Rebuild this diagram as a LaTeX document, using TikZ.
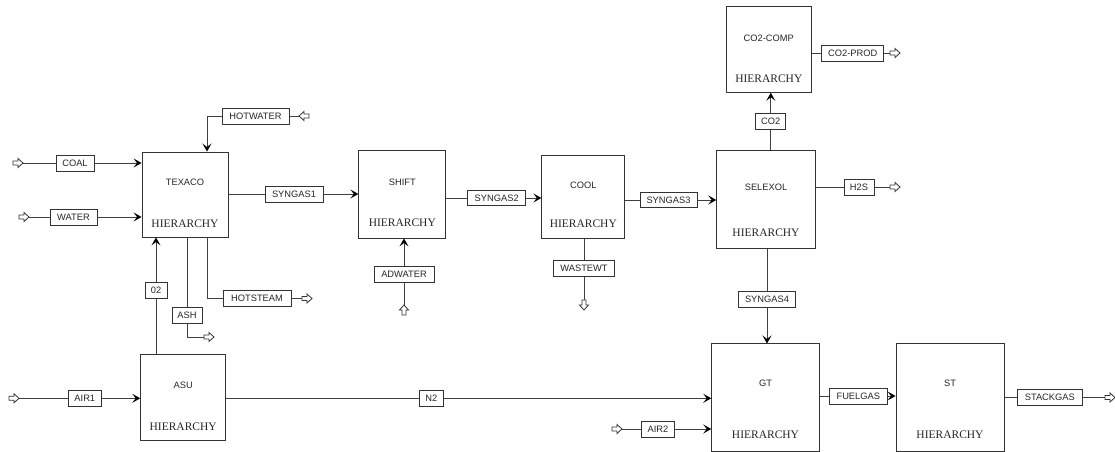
\documentclass[tikz,border=0pt]{standalone}
\usepackage{fontspec}
\setmainfont{Liberation Serif}
\setsansfont{Liberation Sans}
\usetikzlibrary{arrows.meta}
\begin{document}
\begin{tikzpicture}[x=1bp,y=-1bp,
  blk/.style={draw=black!80, line width=0.9bp, inner sep=0pt},
  lbl/.style={draw=black!80, line width=0.9bp, fill=white, inner sep=0pt, minimum height=16bp,
    font=\sffamily\fontsize{9.3bp}{11bp}\selectfont, text=black!85},
  ttl/.style={font=\sffamily\fontsize{9.3bp}{11bp}\selectfont, text=black!85, inner sep=0pt},
  hier/.style={font=\fontsize{11.5bp}{13bp}\selectfont, text=black!85, inner sep=0pt},
  ln/.style={draw=black!75, line width=0.9bp},
  arr/.style={ln, -{Stealth[length=8bp,width=9bp,inset=3.5bp,black]}},
  srcarr/.pic={\draw[line width=0.8bp, draw=black!80, fill=white]
     (-10,-2)--(-5,-2)--(-5,-4.5)--(0,0)--(-5,4.5)--(-5,2)--(-10,2)--cycle;},
  sinkarr/.pic={\draw[line width=0.8bp, draw=black!80, fill=white]
     (0,-2)--(5,-2)--(5,-4.5)--(10,0)--(5,4.5)--(5,2)--(0,2)--cycle;}
]
\useasboundingbox (0,0) rectangle (1115,452);

% blocks
\node[blk, minimum width=86bp, minimum height=85bp] (texaco) at (185,194.5) {};
\node[ttl] (texacoT) at (185,182) {TEXACO};
\node[hier] (texacoH) at (185,224) {HIERARCHY};

\node[blk, minimum width=87bp, minimum height=88bp] (shift) at (402.3,194) {};
\node[ttl] (shiftT) at (402.3,182) {SHIFT};
\node[hier] (shiftH) at (402.3,223) {HIERARCHY};

\node[blk, minimum width=83bp, minimum height=83bp] (cool) at (583.3,196.5) {};
\node[ttl] (coolT) at (583.3,185) {COOL};
\node[hier] (coolH) at (583.3,224) {HIERARCHY};

\node[blk, minimum width=98.6bp, minimum height=97.6bp] (selexol) at (766,199.5) {};
\node[ttl] (selexolT) at (766,187) {SELEXOL};
\node[hier] (selexolH) at (766,233) {HIERARCHY};

\node[blk, minimum width=85bp, minimum height=85.6bp] (co2comp) at (768.8,49.5) {};
\node[ttl] (co2compT) at (768.8,38) {CO2-COMP};
\node[hier] (co2compH) at (768.8,79) {HIERARCHY};

\node[blk, minimum width=85bp, minimum height=85.7bp] (asu) at (183.2,397.2) {};
\node[ttl] (asuT) at (183.2,385) {ASU};
\node[hier] (asuH) at (183.2,427) {HIERARCHY};

\node[blk, minimum width=107.6bp, minimum height=107.7bp] (gt) at (765.5,397.8) {};
\node[ttl] (gtT) at (765.5,383) {GT};
\node[hier] (gtH) at (765.5,435) {HIERARCHY};

\node[blk, minimum width=108bp, minimum height=107.7bp] (st) at (950,397.8) {};
\node[ttl] (stT) at (950,383) {ST};
\node[hier] (stH) at (950,435) {HIERARCHY};

% stream labels
\node[lbl, minimum width=38bp] (coal) at (75,163) {COAL};
\node[lbl, minimum width=47bp] (water) at (73.5,217) {WATER};
\node[lbl, minimum width=67bp] (hotwater) at (255.5,116) {HOTWATER};
\node[lbl, minimum width=58bp] (syngas1) at (294,194) {SYNGAS1};
\node[lbl, minimum width=22bp] (o2) at (156,290.5) {02};
\node[lbl, minimum width=30bp] (ash) at (187,315) {ASH};
\node[lbl, minimum width=68bp] (hotsteam) at (257,298.5) {HOTSTEAM};
\node[lbl, minimum width=58bp, minimum height=14.5bp] (syngas2) at (496.7,198) {SYNGAS2};
\node[lbl, minimum width=60bp] (adwater) at (404,274.3) {ADWATER};
\node[lbl, minimum width=61bp] (wastewt) at (584,268.5) {WASTEWT};
\node[lbl, minimum width=57bp, minimum height=15bp] (syngas3) at (668.5,200) {SYNGAS3};
\node[lbl, minimum width=30bp] (co2) at (770.8,121) {CO2};
\node[lbl, minimum width=62bp] (co2prod) at (852.7,53) {CO2-PROD};
\node[lbl, minimum width=30bp] (h2s) at (859,187) {H2S};
\node[lbl, minimum width=57bp] (syngas4) at (767,299.3) {SYNGAS4};
\node[lbl, minimum width=33bp] (air1) at (84.8,398.3) {AIR1};
\node[lbl, minimum width=24bp] (n2) at (431.3,398.3) {N2};
\node[lbl, minimum width=32.6bp] (air2) at (658,429) {AIR2};
\node[lbl, minimum width=58bp] (fuelgas) at (858.3,396) {FUELGAS};
\node[lbl, minimum width=65bp] (stackgas) at (1049.8,397.5) {STACKGAS};

% terminal coordinates
\coordinate (coalsrc) at (23,163);
\coordinate (watersrc) at (29,217);
\coordinate (hwsrc) at (299,116);
\coordinate (hwbend) at (207,116);
\coordinate (ashout) at (204,337);
\coordinate (hsbend) at (207.7,298.5);
\coordinate (hsout) at (302,298.5);
\coordinate (adsrc) at (404,305);
\coordinate (wwout) at (584,300);
\coordinate (co2out) at (890,53);
\coordinate (h2sout) at (890,187);
\coordinate (air1src) at (19,398.3);
\coordinate (air2src) at (622,429);
\coordinate (stout) at (1105,397.5);

% connectors
\draw[ln] (coalsrc) -- (coal);
\draw[arr] (coal) -- (coal -| texaco.west);
\draw[ln] (watersrc) -- (water);
\draw[arr] (water) -- (water -| texaco.west);
\draw[ln] (hwsrc) -- (hotwater);
\draw[arr] (hotwater) -- (hwbend) -- (hwbend |- texaco.north);
\draw[ln] (texaco.east |- syngas1) -- (syngas1);
\draw[arr] (syngas1) -- (syngas1 -| shift.west);
\draw[ln] (o2 |- asu.north) -- (o2);
\draw[arr] (o2) -- (o2 |- texaco.south);
\draw[ln] (ash |- texaco.south) -- (ash);
\draw[ln] (ash) -- (ash |- ashout) -- (ashout);
\draw[ln] (hsbend |- texaco.south) -- (hsbend) -- (hotsteam);
\draw[ln] (hotsteam) -- (hsout);
\draw[ln] (shift.east |- syngas2) -- (syngas2);
\draw[arr] (syngas2) -- (syngas2 -| cool.west);
\draw[ln] (adsrc) -- (adwater);
\draw[arr] (adwater) -- (adwater |- shift.south);
\draw[ln] (wastewt |- cool.south) -- (wastewt);
\draw[ln] (wastewt) -- (wwout);
\draw[ln] (cool.east |- syngas3) -- (syngas3);
\draw[arr] (syngas3) -- (syngas3 -| selexol.west);
\draw[ln] (co2 |- selexol.north) -- (co2);
\draw[arr] (co2) -- (co2 |- co2comp.south);
\draw[ln] (co2comp.east |- co2prod) -- (co2prod);
\draw[ln] (co2prod) -- (co2out);
\draw[ln] (selexol.east |- h2s) -- (h2s);
\draw[ln] (h2s) -- (h2sout);
\draw[ln] (syngas4 |- selexol.south) -- (syngas4);
\draw[arr] (syngas4) -- (syngas4 |- gt.north);
\draw[ln] (air1src) -- (air1);
\draw[arr] (air1) -- (air1 -| asu.west);
\draw[ln] (asu.east |- n2) -- (n2);
\draw[arr] (n2) -- (n2 -| gt.west);
\draw[ln] (air2src) -- (air2);
\draw[arr] (air2) -- (air2 -| gt.west);
\draw[ln] (gt.east |- fuelgas) -- (fuelgas);
\draw[arr] (fuelgas) -- (fuelgas -| st.west);
\draw[ln] (st.east |- stackgas) -- (stackgas);
\draw[ln] (stackgas) -- (stout);

% open terminal arrows
\pic at (coalsrc) {srcarr};
\pic at (watersrc) {srcarr};
\pic[rotate=180] at (hwsrc) {srcarr};
\pic at (ashout) {sinkarr};
\pic at (hsout) {sinkarr};
\pic[rotate=90] at (adsrc) {srcarr};
\pic[rotate=-90] at (wwout) {sinkarr};
\pic at (co2out) {sinkarr};
\pic at (h2sout) {sinkarr};
\pic at (air1src) {srcarr};
\pic at (air2src) {srcarr};
\pic at (stout) {sinkarr};
\end{tikzpicture}
\end{document}
